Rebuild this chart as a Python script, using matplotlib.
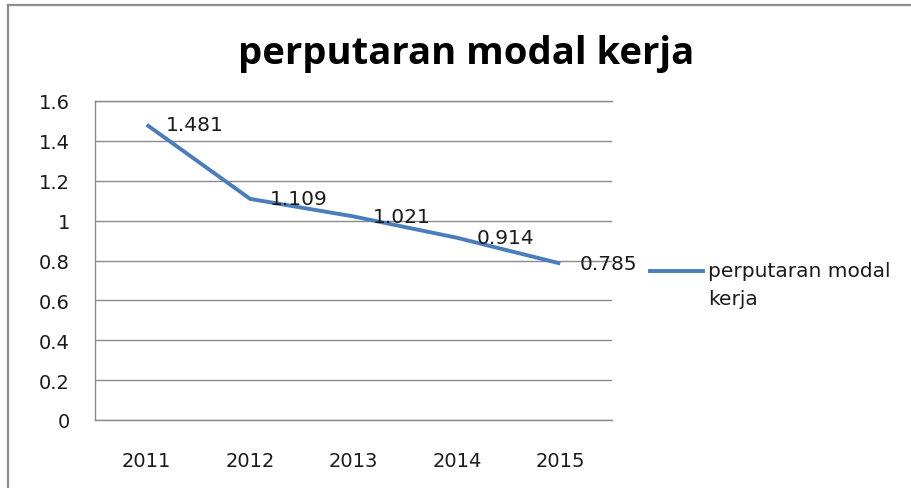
import matplotlib
matplotlib.use('Agg')
import matplotlib.pyplot as plt
from matplotlib.lines import Line2D

years = ['2011', '2012', '2013', '2014', '2015']
values = [1.481, 1.109, 1.021, 0.914, 0.785]
labels = ['1.481', '1.109', '1.021', '0.914', '0.785']
series_name = 'perputaran modal\nkerja'
title = 'perputaran modal kerja'

plt.rcParams['font.family'] = ['DejaVu Sans']

W, H = 912, 489
fig = plt.figure(figsize=(W / 100, H / 100), dpi=100)
fig.patch.set_facecolor('white')

# outer chart frame (only left and top edges are visible in the crop)
frame_col = '#8c8c8c'
fig.add_artist(Line2D([8 / W, 8 / W], [0, 1 - 6 / H], transform=fig.transFigure,
                      color=frame_col, lw=1.6))
fig.add_artist(Line2D([8 / W, 1], [1 - 6 / H, 1 - 6 / H], transform=fig.transFigure,
                      color=frame_col, lw=1.6))

left, right, top, bottom = 95, 612, 102, 421
ax = fig.add_axes([left / W, 1 - bottom / H, (right - left) / W, (bottom - top) / H])

x = list(range(len(years)))
ax.plot(x, values, color='#4A7EBB', lw=2.8, solid_capstyle='butt', zorder=3)

txt_col = '#1a1a1a'
for xi, v, lab in zip(x, values, labels):
    ax.annotate(lab, (xi, v), xytext=(14, 0), textcoords='offset points',
                ha='left', va='center', fontsize=14.5, color=txt_col, zorder=4)

ax.set_xlim(-0.5, 4.5)
ax.set_ylim(0, 1.6)
ax.set_yticks([0, 0.2, 0.4, 0.6, 0.8, 1.0, 1.2, 1.4, 1.6])
ax.set_yticklabels(['0', '0.2', '0.4', '0.6', '0.8', '1', '1.2', '1.4', '1.6'])
ax.set_xticks(x)
ax.set_xticklabels(years)
ax.tick_params(axis='both', length=0, labelsize=14, colors=txt_col)
ax.tick_params(axis='y', pad=18)
ax.tick_params(axis='x', pad=22)

ax.grid(axis='y', color='#8a8a8a', lw=1.0)
ax.set_axisbelow(True)
for s in ['right', 'bottom']:
    ax.spines[s].set_visible(False)
for s in ['left', 'top']:
    ax.spines[s].set_color('#8a8a8a')
    ax.spines[s].set_linewidth(1.0)
ax.axhline(0, color='#8a8a8a', lw=1.0, clip_on=False, zorder=1)

fig.text(466 / W, 1 - 54 / H, title, ha='center', va='center',
         fontsize=27.5, fontweight='bold', color='black', family='Open Sans')

# legend
fig.add_artist(Line2D([650 / W, 703 / W], [1 - 272 / H, 1 - 272 / H],
                      transform=fig.transFigure, color='#4A7EBB', lw=2.8))
fig.text(708 / W, 1 - 262 / H, series_name, ha='left', va='top',
         fontsize=14.5, color=txt_col, linespacing=1.6)

fig.savefig('out.png', dpi=100)
